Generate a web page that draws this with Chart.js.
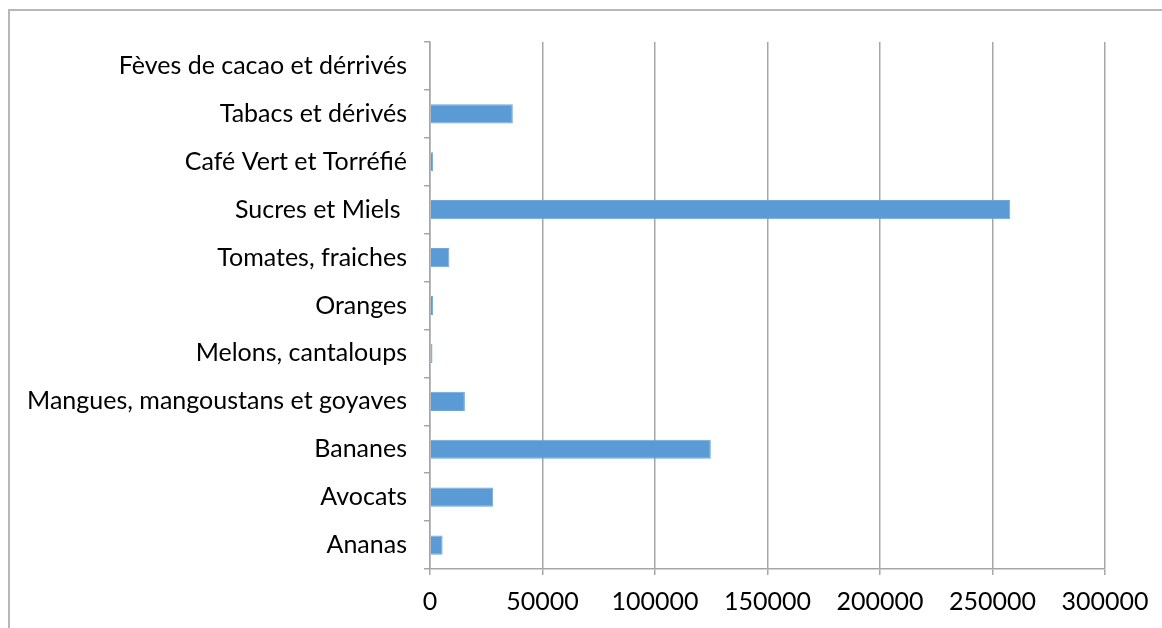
<!DOCTYPE html>
<html>
<head>
  <meta charset="utf-8">
  <title>Exportations par produit</title>
  <style>
    html, body { margin: 0; padding: 0; background: #fff; }
    #wrap { position: relative; width: 1162px; height: 628px; overflow: hidden; }
    #frame { position: absolute; left: 8px; top: 9px; width: 1200px; height: 700px; border: 2px solid #b8b8b8; box-sizing: border-box; }
    canvas { position: absolute; left: 0; top: 0; }
  </style>
  <script src="https://cdn.jsdelivr.net/npm/chart.js@4.4.1/dist/chart.umd.min.js"></script>
</head>
<body>
  <div id="wrap">
    <div id="frame"></div>
    <canvas id="chart" width="1162" height="628"></canvas>
  </div>
  <script>
    // categories listed top to bottom as they appear in the chart
    const categories = [
      "Fèves de cacao et dérrivés",
      "Tabacs et dérivés",
      "Café Vert et Torréfié",
      "Sucres et Miels ",
      "Tomates, fraiches",
      "Oranges",
      "Melons, cantaloups",
      "Mangues, mangoustans et goyaves",
      "Bananes",
      "Avocats",
      "Ananas"
    ];
    const values = [0, 36800, 1400, 257900, 8600, 1400, 1100, 15500, 124800, 28100, 5600];
    const xTicks = [0, 50000, 100000, 150000, 200000, 250000, 300000];

    const gridGrey = "#a6a6a6";
    const font = { family: "Lato, 'Open Sans', sans-serif", size: 25 };

    new Chart(document.getElementById("chart"), {
      type: "bar",
      data: {
        labels: categories,
        datasets: [{
          data: values,
          backgroundColor: "#5b9bd5",
          borderColor: "#6fa6da",
          borderWidth: 1,
          categoryPercentage: 0.4,
          barPercentage: 1
        }]
      },
      options: {
        indexAxis: "y",
        responsive: false,
        animation: false,
        layout: { padding: { left: 0, right: 57, top: 42, bottom: 0 } },
        plugins: { legend: { display: false }, tooltip: { enabled: false } },
        scales: {
          x: {
            min: 0,
            max: 300000,
            afterBuildTicks: (scale) => { scale.ticks = xTicks.map(v => ({ value: v })); },
            afterFit: (scale) => { scale.height = 59; },
            grid: { color: gridGrey, lineWidth: 1.5, tickLength: 6 },
            border: { color: gridGrey, width: 1.5 },
            ticks: {
              color: "#000", font: font, padding: 12, maxRotation: 0,
              callback: (v) => String(v)
            }
          },
          y: {
            afterFit: (scale) => { scale.width = 430; },
            grid: { drawOnChartArea: false, offset: true, color: gridGrey, lineWidth: 1.5, tickLength: 6 },
            border: { color: gridGrey, width: 1.5 },
            ticks: { color: "#000", font: font, padding: 17 }
          }
        }
      }
    });
  </script>
</body>
</html>
